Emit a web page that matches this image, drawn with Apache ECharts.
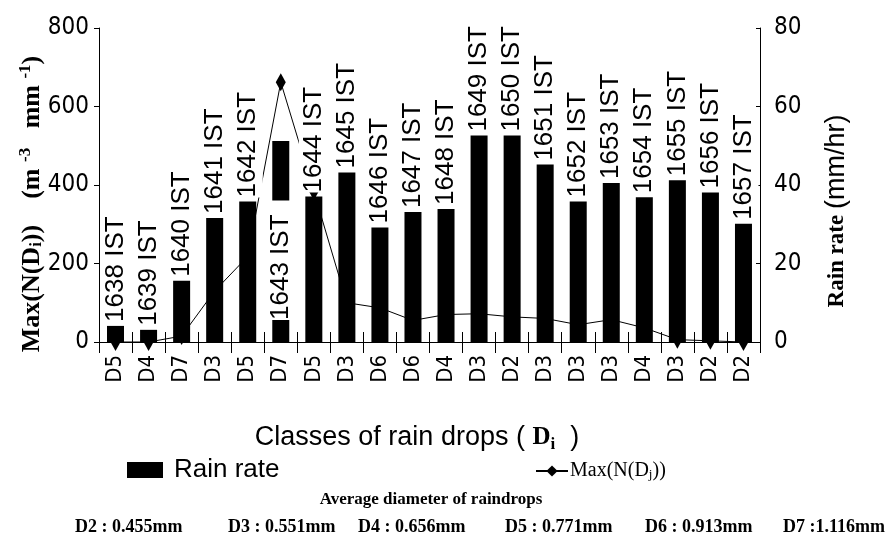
<!DOCTYPE html>
<html>
<head>
<meta charset="utf-8">
<script src="https://cdn.jsdelivr.net/npm/echarts@6/dist/echarts.min.js"></script>
<style>
  html, body { margin: 0; padding: 0; background: #fff; }
  #chart { width: 885px; height: 544px; }
</style>
</head>
<body>
<div id="chart"></div>
<script>
// Drop-size class with the largest concentration at each minute
const classes = ['D5','D4','D7','D3','D5','D7','D5','D3','D6','D6','D4','D3','D2','D3','D3','D3','D4','D3','D2','D2'];
// Observation times (bar labels)
const times = ['1638 IST','1639 IST','1640 IST','1641 IST','1642 IST','1643 IST','1644 IST','1645 IST','1646 IST','1647 IST',
               '1648 IST','1649 IST','1650 IST','1651 IST','1652 IST','1653 IST','1654 IST','1655 IST','1656 IST','1657 IST'];
// Rain rate (mm/hr), right axis
const rainRate = [4.1, 3.1, 15.6, 31.6, 35.8, 51.2, 37.1, 43.2, 29.2, 33.1, 33.9, 52.6, 52.6, 45.2, 35.8, 40.5, 36.9, 41.2, 38.1, 30.1];
// Max(N(Di)) (m^-3 mm^-1), left axis
const maxN = [0, 0, 15, 130, 218, 662, 384, 100, 87, 55, 70, 72, 64, 60, 44, 57, 36, 6, 3, 0];
// Axis ticks
const leftTicks = { min: 0, max: 800, step: 200 };
const rightTicks = { min: 0, max: 80, step: 20 };
// Average diameter of each class
const diameterNotes = ['D2 : 0.455mm', 'D3 : 0.551mm', 'D4 : 0.656mm', 'D5 : 0.771mm', 'D6 : 0.913mm', 'D7 :1.116mm'];
const diameterNoteX = [75, 228, 358, 505, 645, 783];

// The 1643 IST label sits low on its bar, on a white box
const shiftedLabelIndex = 5;

const SANS = "'Liberation Sans', Arial, sans-serif";
const NARROW = "'Liberation Sans Narrow', 'DejaVu Sans Condensed', 'Liberation Sans', sans-serif";
const SERIF = "'Liberation Serif', 'Times New Roman', serif";

const chart = echarts.init(document.getElementById('chart'), null, { renderer: 'canvas' });

const barData = rainRate.map((v, i) => {
  if (i !== shiftedLabelIndex) return v;
  return {
    value: v,
    label: {
      position: 'insideBottom',
      distance: 22,
      padding: [4, 14, 0, 0]
    }
  };
});

const option = {
  backgroundColor: '#ffffff',
  animation: false,
  grid: { left: 99, right: 125, top: 28, bottom: 202, containLabel: false },
  legend: [
    {
      data: ['Rain rate'],
      left: 122, top: 452,
      icon: 'rect', itemWidth: 36, itemHeight: 16,
      textStyle: { fontFamily: SANS, fontSize: 26, color: '#000', padding: [0, 0, 0, 6] }
    },
    {
      data: ['Max(N(Dj))'],
      left: 530, top: 456,
      itemWidth: 32, itemHeight: 14, itemGap: 4,
      formatter: () => '{t|Max(N(D}{s|j}{t|))}',
      textStyle: {
        color: '#000',
        padding: [0, 0, 0, -3],
        rich: {
          t: { fontFamily: SERIF, fontSize: 20, color: '#000' },
          s: { fontFamily: SERIF, fontSize: 13, color: '#000', verticalAlign: 'bottom', padding: [8, 0, 0, 0] }
        }
      }
    }
  ],
  xAxis: [
    {
      type: 'category',
      data: classes,
      position: 'bottom',
      axisLine: { show: true, lineStyle: { color: '#000', width: 1 } },
      axisTick: { show: true, length: 11, lineStyle: { color: '#000' } },
      axisLabel: { rotate: 90, margin: 13, color: '#000', fontFamily: NARROW, fontSize: 22 },
      splitLine: { show: false }
    },
    {
      type: 'category',
      data: classes,
      position: 'bottom',
      axisLine: { show: false },
      axisTick: { show: true, inside: true, length: 10, lineStyle: { color: '#000' } },
      axisLabel: { show: false },
      splitLine: { show: false }
    }
  ],
  yAxis: [
    {
      type: 'value',
      min: leftTicks.min, max: leftTicks.max, interval: leftTicks.step,
      position: 'left',
      axisLine: { show: true, lineStyle: { color: '#000', width: 1 } },
      axisTick: { show: true, length: 5, lineStyle: { color: '#000' } },
      axisLabel: { color: '#000', fontFamily: NARROW, fontSize: 24, margin: 10 },
      splitLine: { show: false }
    },
    {
      type: 'value',
      min: rightTicks.min, max: rightTicks.max, interval: rightTicks.step,
      position: 'right',
      axisLine: { show: true, lineStyle: { color: '#000', width: 1 } },
      axisTick: { show: true, inside: true, length: 4, lineStyle: { color: '#000' } },
      axisLabel: { color: '#000', fontFamily: NARROW, fontSize: 24, margin: 14 },
      splitLine: { show: false }
    }
  ],
  series: [
    {
      name: 'Max(N(Dj))',
      type: 'line',
      xAxisIndex: 0,
      yAxisIndex: 0,
      data: maxN,
      smooth: false,
      symbol: 'diamond',
      symbolSize: [10, 18],
      lineStyle: { color: '#000', width: 1 },
      itemStyle: { color: '#000' },
      z: 1
    },
    {
      name: 'Rain rate',
      type: 'bar',
      xAxisIndex: 0,
      yAxisIndex: 1,
      data: barData,
      barWidth: 17,
      itemStyle: { color: '#000' },
      z: 3,
      label: {
        show: true,
        position: 'top',
        distance: 4,
        rotate: 90,
        align: 'left',
        verticalAlign: 'middle',
        color: '#000',
        fontFamily: SANS,
        fontSize: 26,
        backgroundColor: '#fff',
        padding: [4, 0, 0, 0],
        formatter: (p) => times[p.dataIndex]
      }
    }
  ],
  graphic: [
    // Left axis title
    {
      type: 'text', x: 32, y: 204, rotation: Math.PI / 2,
      style: {
        text: '{b|Max(N(D}{sub|i}{b|))}{b|    (m }{sup|-3}{b|   mm }{sup|-1}{b|)}',
        textAlign: 'center', textVerticalAlign: 'middle', align: 'center', verticalAlign: 'middle',
        fill: '#000',
        rich: {
          b: { fontFamily: SERIF, fontWeight: 'bold', fontSize: 26, fill: '#000', color: '#000' },
          sub: { fontFamily: SERIF, fontWeight: 'bold', fontSize: 17, fill: '#000', color: '#000', padding: [10, 0, 0, 0] },
          sup: { fontFamily: SERIF, fontWeight: 'bold', fontSize: 17, fill: '#000', color: '#000', padding: [0, 0, 12, 0] }
        }
      }
    },
    // Right axis title
    {
      type: 'text', x: 837, y: 211, rotation: Math.PI / 2,
      style: {
        text: '{b|Rain rate }{n|(mm/hr)}',
        textAlign: 'center', textVerticalAlign: 'middle', align: 'center', verticalAlign: 'middle',
        fill: '#000',
        rich: {
          b: { fontFamily: SERIF, fontWeight: 'bold', fontSize: 23, fill: '#000', color: '#000' },
          n: { fontFamily: SANS, fontSize: 27, fill: '#000', color: '#000' }
        }
      }
    },
    // Category axis title
    {
      type: 'text', x: 417, y: 438,
      style: {
        text: '{a|Classes of rain drops ( }{d|D}{sub|i}{a|  )}',
        textAlign: 'center', textVerticalAlign: 'middle', align: 'center', verticalAlign: 'middle',
        fill: '#000',
        rich: {
          a: { fontFamily: SANS, fontSize: 27, fill: '#000', color: '#000' },
          d: { fontFamily: SERIF, fontWeight: 'bold', fontSize: 25, fill: '#000', color: '#000' },
          sub: { fontFamily: SERIF, fontWeight: 'bold', fontSize: 17, fill: '#000', color: '#000', padding: [14, 0, 0, 0] }
        }
      }
    },
    // Diameter heading
    {
      type: 'text', x: 431, y: 500,
      style: {
        text: 'Average diameter of raindrops',
        textAlign: 'center', textVerticalAlign: 'middle', align: 'center', verticalAlign: 'middle',
        fill: '#000', fontFamily: SERIF, fontWeight: 'bold', fontSize: 17,
        font: 'bold 17px ' + SERIF
      }
    }
  ].concat(diameterNotes.map((t, i) => ({
    type: 'text', x: diameterNoteX[i], y: 527,
    style: {
      text: t,
      textAlign: 'left', textVerticalAlign: 'middle', align: 'left', verticalAlign: 'middle',
      fill: '#000', fontFamily: SERIF, fontWeight: 'bold', fontSize: 18,
      font: 'bold 18px ' + SERIF
    }
  })))
};

chart.setOption(option);
</script>
</body>
</html>
